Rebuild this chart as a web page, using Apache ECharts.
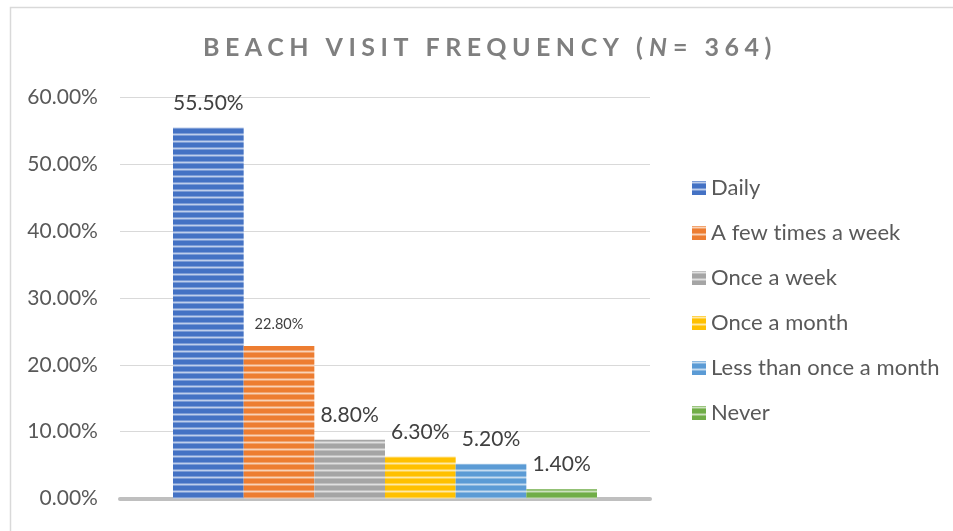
<!DOCTYPE html>
<html>
<head>
<meta charset="utf-8">
<script src="https://cdn.jsdelivr.net/npm/echarts@6/dist/echarts.min.js"></script>
<style>
html,body{margin:0;padding:0;background:#fff;}
#chart{width:953px;height:531px;}
</style>
</head>
<body>
<div id="chart"></div>
<script>
const seriesNames = ['Daily', 'A few times a week', 'Once a week', 'Once a month', 'Less than once a month', 'Never'];
const seriesValues = [55.5, 22.8, 8.8, 6.3, 5.2, 1.4];
const seriesColors = ['#4472C4', '#ED7D31', '#A5A5A5', '#FFC000', '#5B9BD5', '#70AD47'];
const yTicks = [0, 10, 20, 30, 40, 50, 60];
const categories = [''];
const titleParts = ['BEACH VISIT FREQUENCY (', 'N', '= 364)'];

const FONT = 'Lato, "Open Sans", sans-serif';
const TITLE_SIZE = 25;
const TITLE_SPACING = '5.5px';

// Canvas letter spacing for the spaced title (and tiny spacing elsewhere to avoid ligatures)
(function () {
  const proto = CanvasRenderingContext2D.prototype;
  const orig = proto.fillText;
  proto.fillText = function (t, x, y, m) {
    const prev = this.letterSpacing;
    if (this.font.indexOf(TITLE_SIZE + 'px') >= 0) this.letterSpacing = TITLE_SPACING;
    else this.letterSpacing = '0.05px';
    if (m === undefined) orig.call(this, t, x, y); else orig.call(this, t, x, y, m);
    this.letterSpacing = prev;
  };
})();

function spacedWidth(text, italic) {
  const c = document.createElement('canvas').getContext('2d');
  c.font = (italic ? 'italic ' : '') + 'bold ' + TITLE_SIZE + 'px ' + FONT;
  c.letterSpacing = TITLE_SPACING;
  return Math.ceil(c.measureText(text).width);
}

function stripe(color) {
  const c = document.createElement('canvas');
  c.width = 8; c.height = 7;
  const ctx = c.getContext('2d');
  ctx.fillStyle = color;
  ctx.fillRect(0, 0, 8, 7);
  ctx.fillStyle = 'rgba(255,255,255,0.3)';
  ctx.fillRect(0, 0, 8, 3);
  ctx.fillStyle = 'rgba(255,255,255,0.5)';
  ctx.fillRect(0, 1, 8, 1);
  return { image: c, repeat: 'repeat' };
}

const chart = echarts.init(document.getElementById('chart'));

const series = seriesNames.map((name, i) => ({
  name: name,
  type: 'bar',
  data: [seriesValues[i]],
  barGap: '0%',
  barCategoryGap: '20%',
  itemStyle: { color: stripe(seriesColors[i]) },
  label: {
    show: true,
    position: 'top',
    distance: 14,
    color: '#404040',
    fontFamily: FONT,
    fontSize: i === 1 ? 14.5 : 21,
    formatter: p => p.value.toFixed(2) + '%'
  }
}));

const titleStyle = { fontFamily: FONT, fontSize: TITLE_SIZE, fontWeight: 'bold', color: '#7F7F7F' };

chart.setOption({
  animation: false,
  backgroundColor: '#fff',
  title: {
    text: '{a|' + titleParts[0] + '}{i|' + titleParts[1] + '}{b|' + titleParts[2] + '}',
    left: 198,
    top: 30,
    textStyle: {
      rich: {
        a: Object.assign({ width: spacedWidth(titleParts[0], false) }, titleStyle),
        i: Object.assign({ width: spacedWidth(titleParts[1], true), fontStyle: 'italic' }, titleStyle),
        b: Object.assign({ width: spacedWidth(titleParts[2], false) }, titleStyle)
      }
    }
  },
  graphic: [{
    type: 'rect',
    left: 8, top: 5,
    shape: { width: 1000, height: 1000 },
    style: { fill: 'none', stroke: '#D9D9D9', lineWidth: 1.5 },
    silent: true
  }],
  legend: {
    orient: 'vertical',
    left: 687,
    top: 172,
    itemWidth: 14,
    itemHeight: 14,
    itemGap: 23,
    icon: 'rect',
    textStyle: { fontFamily: FONT, fontSize: 22, color: '#595959' },
    data: seriesNames
  },
  grid: { left: 120, right: 303, top: 97.5, bottom: 32.5, containLabel: false },
  xAxis: {
    type: 'category',
    data: categories,
    axisLine: { show: true, lineStyle: { color: '#BFBFBF', width: 4 } },
    axisTick: { show: false },
    axisLabel: { show: false }
  },
  yAxis: {
    type: 'value',
    min: yTicks[0],
    max: yTicks[yTicks.length - 1],
    interval: 10,
    axisLine: { show: false },
    axisTick: { show: false },
    splitLine: { lineStyle: { color: '#D9D9D9', width: 1 } },
    axisLabel: {
      margin: 22,
      fontFamily: FONT,
      fontSize: 21,
      color: '#595959',
      formatter: v => v.toFixed(2) + '%'
    }
  },
  series: series
});
</script>
</body>
</html>
